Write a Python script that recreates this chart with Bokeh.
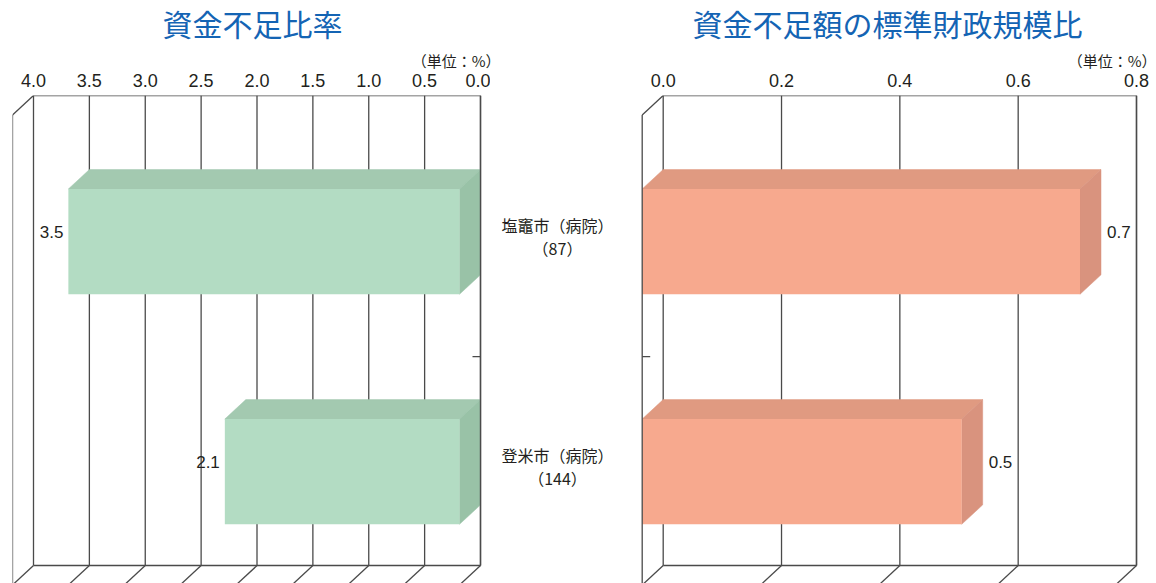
from bokeh.plotting import figure
from bokeh.models import Range1d, FixedTicker, PrintfTickFormatter, Spacer
from bokeh.layouts import row, column
from bokeh.embed import file_html
from bokeh.resources import INLINE
from bokeh.core.properties import value

# ---------------- data ----------------
categories = ["塩竈市（病院）", "登米市（病院）"]
category_notes = ["（87）", "（144）"]
category_pos = [1, 0]                       # top to bottom
ratio_values = [3.5, 2.1]                   # 資金不足比率
scale_values = [0.74, 0.54]                 # 資金不足額の標準財政規模比
ratio_ticks = [0.0, 0.5, 1.0, 1.5, 2.0, 2.5, 3.0, 3.5, 4.0]
scale_ticks = [0.0, 0.2, 0.4, 0.6, 0.8]
titles = ["資金不足比率", "資金不足額の標準財政規模比"]
unit_text = "（単位：%）"

# ---------------- style / layout ----------------
HEAD = 70                 # height of the title strip
H = 583 - HEAD            # height of the chart figures
TOP = 23                  # border above the frame (tick labels)
FRAME_H = H - TOP
CAT_PX = 231.0            # pixels between category centres
Y_TOP = 1 + 127.2 / CAT_PX
PPY = 1 / CAT_PX
Y_START = Y_TOP - FRAME_H * PPY
Y_FLOOR = Y_TOP - 472 * PPY
BAR_HALF = 52.85 * PPY
DX_PX, DY_PX = 21.0, 19.5
DY = DY_PX * PPY

JP = "Noto Sans CJK JP"
NUM = "Liberation Sans"
TXT = "#231f20"
GRID = "#4a4a4a"
TITLE_C = "#1464b4"


def make_chart(vals, ticks, width, bl, br, pad_l, pad_r, reverse,
               face, top_c, side_c, title, title_dx, unit_dx, extra, lab_side):
    fw = width - bl - br
    lo, hi = min(ticks), max(ticks)
    upp = (hi - lo) / (fw - pad_l - pad_r)       # data units per px
    if reverse:
        xs, xe = hi + pad_l * upp, lo - pad_r * upp
    else:
        xs, xe = lo - pad_l * upp, hi + pad_r * upp
    ppx = (xe - xs) / fw

    def left_shift(x, px):
        return x - px * ppx

    # ---- title strip (same horizontal mapping as the chart) ----
    t = figure(width=width + extra, height=HEAD, output_backend="svg",
               toolbar_location=None,
               x_range=Range1d(xs - bl * ppx, xe + (br + extra) * ppx),
               y_range=Range1d(HEAD, 0),
               x_axis_location=None, y_axis_location=None,
               min_border_left=0, min_border_right=0, min_border_top=0,
               min_border_bottom=0)
    t.title.visible = False
    t.outline_line_color = None
    t.grid.visible = False
    t.text(x=[(xs + xe) / 2 + title_dx * ppx], y=[22], text=[title],
           text_align="center", text_baseline="middle", text_font=value(JP),
           text_font_size="30px", text_color=TITLE_C)
    t.text(x=[xe + unit_dx * ppx], y=[60], text=[unit_text],
           text_align="right", text_baseline="middle", text_font=value(JP),
           text_font_size="15px", text_color=TXT)

    # ---- chart ----
    p = figure(width=width, height=H, output_backend="svg", toolbar_location=None,
               x_range=Range1d(xs, xe), y_range=Range1d(Y_START, Y_TOP),
               x_axis_location="above", y_axis_location=None,
               min_border_left=bl, min_border_right=br,
               min_border_top=TOP, min_border_bottom=0)
    p.title.visible = False
    p.outline_line_color = None
    p.grid.visible = False

    ax = p.xaxis[0]
    ax.ticker = FixedTicker(ticks=ticks)
    ax.formatter = PrintfTickFormatter(format="%.1f")
    ax.axis_line_color = None
    ax.major_tick_line_color = None
    ax.minor_tick_line_color = None
    ax.major_label_text_font = NUM
    ax.major_label_text_font_size = "18px"
    ax.major_label_text_color = TXT
    ax.major_label_standoff = 3

    # back-plane gridlines and floor diagonals
    p.segment(x0=ticks, y0=[Y_FLOOR] * len(ticks), x1=ticks, y1=[Y_TOP] * len(ticks),
              line_color=GRID, line_width=1.3)
    p.segment(x0=ticks, y0=[Y_FLOOR] * len(ticks),
              x1=[left_shift(tk, DX_PX) for tk in ticks],
              y1=[Y_FLOOR - DY] * len(ticks), line_color=GRID, line_width=1.3)
    # back-plane top and bottom edges
    p.segment(x0=[lo, lo], y0=[Y_TOP, Y_FLOOR], x1=[hi, hi], y1=[Y_TOP, Y_FLOOR],
              line_color=GRID, line_width=1.6)

    # bars (3D)
    for v, c in zip(vals, category_pos):
        ybt, ybb = c + BAR_HALF, c - BAR_HALF
        yft, yfb = ybt - DY, ybb - DY
        x0b, xvb = 0.0, v
        x0f, xvf = left_shift(0.0, DX_PX), left_shift(v, DX_PX)
        eb = 0.0 if reverse else v          # end shown on the screen right
        ef = left_shift(eb, DX_PX)
        p.patch(x=[xvb, x0b, x0f, xvf], y=[ybt, ybt, yft, yft],
                fill_color=top_c, line_color=top_c, line_width=0.5)
        p.patch(x=[eb, eb, ef, ef], y=[ybt, ybb, yfb, yft],
                fill_color=side_c, line_color=side_c, line_width=0.5)
        p.quad(left=min(x0f, xvf), right=max(x0f, xvf), top=yft, bottom=yfb,
               fill_color=face, line_color=None)

    # value labels
    lab = [f"{v:.1f}" for v in vals]
    ymid = [c - DY / 2 for c in category_pos]
    if lab_side == "left":
        p.text(x=[left_shift(v, DX_PX) for v in vals], y=ymid, text=lab,
               text_align="right", text_baseline="middle", x_offset=-5,
               text_font=value(NUM), text_font_size="17px", text_color=TXT)
    else:
        p.text(x=vals, y=ymid, text=lab, text_align="left", text_baseline="middle",
               x_offset=6, text_font=value(NUM), text_font_size="17px", text_color=TXT)

    # left wall (front-left edge)
    far = hi if reverse else lo
    far_f = left_shift(far, DX_PX)
    p.segment(x0=[far, far_f], y0=[Y_TOP, Y_TOP - DY], x1=[far_f, far_f],
              y1=[Y_TOP - DY, Y_FLOOR - DY], line_color=GRID, line_width=1.3)
    # back-plane right edge on top of the bars
    near = lo if reverse else hi
    p.segment(x0=[near], y0=[Y_FLOOR], x1=[near], y1=[Y_TOP],
              line_color=GRID, line_width=1.4)
    # category separator tick
    ysep = (category_pos[0] + category_pos[1]) / 2 - DY
    if reverse:
        p.segment(x0=[lo], y0=[ysep], x1=[left_shift(lo, 8)], y1=[ysep],
                  line_color=GRID, line_width=1.2)
    else:
        p.segment(x0=[far_f], y0=[ysep], x1=[left_shift(far_f, -8)], y1=[ysep],
                  line_color=GRID, line_width=1.2)
    return t, p


EXTRA = 20
t_left, left = make_chart(ratio_values, ratio_ticks, 490, 12, 4, 21, 6, True,
                          "#b3dcc3", "#a3c9b0", "#99c2a7", titles[0], 3, 14, EXTRA,
                          "left")
t_right, right = make_chart(scale_values, scale_ticks, 532, 14, 18, 24.7, 2, False,
                            "#f7a98e", "#e09a81", "#d9937e", titles[1], -1, 18, 0,
                            "right")

MID_W = 134
mid = figure(width=MID_W, height=H, output_backend="svg", toolbar_location=None,
             x_range=Range1d(0, 1), y_range=Range1d(Y_START, Y_TOP),
             x_axis_location=None, y_axis_location=None,
             min_border_left=0, min_border_right=0, min_border_top=TOP,
             min_border_bottom=0)
mid.title.visible = False
mid.outline_line_color = None
mid.grid.visible = False
yfront = [c - DY for c in category_pos]
mid.text(x=[0.5] * len(categories), y=yfront, text=categories, y_offset=-17,
         text_align="center", text_baseline="middle", text_font=value(JP),
         text_font_size="16px", text_color=TXT)
mid.text(x=[0.5] * len(categories), y=yfront, text=category_notes, y_offset=6,
         text_align="center", text_baseline="middle", text_font=value(JP),
         text_font_size="16px", text_color=TXT)

layout = column(row(t_left, Spacer(width=MID_W - EXTRA, height=HEAD), t_right),
                row(left, mid, right))
open("out.html", "w").write(file_html(layout, INLINE))
